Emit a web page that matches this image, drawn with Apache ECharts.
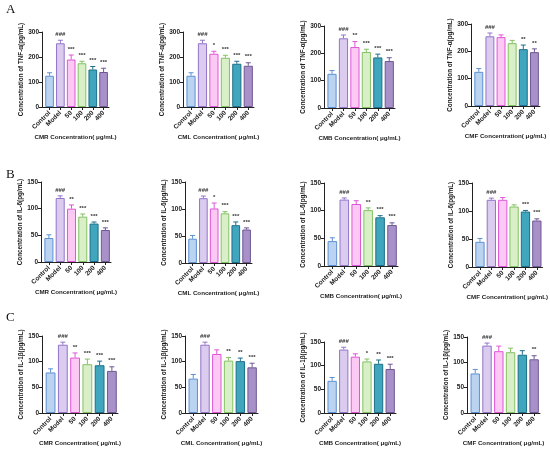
<!DOCTYPE html>
<html>
<head>
<meta charset="utf-8">
<script src="https://cdn.jsdelivr.net/npm/echarts@6/dist/echarts.min.js"></script>
<style>
  html, body { margin: 0; padding: 0; background: #fff; }
  #graph { width: 550px; height: 449px; }
</style>
</head>
<body>
<div id="graph"></div>
<script>
  // 分组名称（X轴）
  var cats = ['Control', 'Model', '50', '100', '200', '400'];
  var extracts = ['CMR', 'CML', 'CMB', 'CMF'];

  // A: TNF-α
  var tnfMean = [
    [125, 255, 190, 175, 150, 140],
    [125, 255, 213, 197, 173, 165],
    [125, 255, 223, 205, 185, 172],
    [125, 255, 252, 230, 208, 197]
  ];
  var tnfErr = [
    [12, 12, 18, 8, 12, 15],
    [12, 12, 10, 10, 10, 12],
    [12, 12, 20, 10, 12, 12],
    [12, 12, 8, 10, 15, 12]
  ];
  var tnfSig = [
    ['', '###', '***', '***', '***', '***'],
    ['', '###', '*', '***', '***', '***'],
    ['', '###', '**', '***', '***', '***'],
    ['', '###', '', '', '**', '**']
  ];

  // B: IL-6
  var il6Mean = [
    [45, 120, 100, 85, 72, 60],
    [45, 120, 101, 92, 70, 62],
    [45, 120, 112, 101, 88, 74],
    [45, 120, 120, 108, 99, 83]
  ];
  var il6Err = [
    [6, 4, 7, 5, 3, 4],
    [6, 4, 10, 3, 6, 3],
    [6, 3, 6, 4, 3, 4],
    [6, 3, 4, 3, 2, 3]
  ];
  var il6Sig = [
    ['', '###', '**', '***', '***', '***'],
    ['', '###', '*', '***', '***', '***'],
    ['', '###', '', '**', '***', '***'],
    ['', '###', '', '', '***', '***']
  ];

  // C: IL-1β
  var il1bMean = [
    [79, 133, 108, 95, 93, 82],
    [67, 133, 115, 102, 101, 89],
    [68, 134, 119, 109, 104, 93],
    [78, 133, 122, 120, 115, 106]
  ];
  var il1bErr = [
    [7, 5, 9, 10, 8, 8],
    [8, 5, 8, 6, 6, 8],
    [7, 5, 6, 5, 8, 10],
    [8, 5, 10, 8, 8, 7]
  ];
  var il1bSig = [
    ['', '###', '**', '***', '***', '***'],
    ['', '###', '', '**', '**', '***'],
    ['', '###', '', '*', '**', '***'],
    ['', '###', '', '', '', '**']
  ];

  var yTicksMax = [300, 150, 150];
  var yTicksStep = [100, 50, 50];
  var yNames = ['Concentration of TNF-α(pg/mL)', 'Concentration of IL-6(pg/mL)', 'Concentration of IL-1β(pg/mL)'];

  var means = [tnfMean, il6Mean, il1bMean];
  var errs = [tnfErr, il6Err, il1bErr];
  var sigs = [tnfSig, il6Sig, il1bSig];

  // 颜色
  var fillColors = ['#b9d3f1', '#dacbef', '#fbc9f3', '#d8efc8', '#3fa6be', '#a891c9'];
  var lineColors = ['#5d90d2', '#9274c9', '#df55d6', '#83c163', '#1c6f87', '#6d5893'];

  // 每个小图的坐标区域 [左, 上, 右, 下]
  var boxes = [
    [[42, 32, 109, 107], [183, 32, 254, 107], [324, 26, 395, 108], [471, 24, 540, 106]],
    [[41, 182, 111, 262], [185, 182, 252, 263], [324, 183, 398, 266], [472, 183, 544, 267]],
    [[42, 336, 118, 413], [185, 336, 258, 413], [324, 342, 396, 413], [467, 337, 540, 413]]
  ];

  var font = 'Liberation Sans, Arial, sans-serif';
  var grids = [], xAxes = [], yAxes = [], series = [];

  for (var r = 0; r < 3; r++) {
    for (var c = 0; c < 4; c++) {
      var k = grids.length;
      var b = boxes[r][c];
      var band = (b[2] - b[0]) / 6.2;
      grids.push({ left: b[0], top: b[1], width: b[2] - b[0], height: b[3] - b[1] });
      xAxes.push({
        gridIndex: k,
        type: 'value',
        min: 0.3,
        max: 6.5,
        splitLine: { show: false },
        axisLine: { show: true, lineStyle: { color: '#222', width: 1 } },
        axisTick: { show: true, length: 3, customValues: [1, 2, 3, 4, 5, 6], lineStyle: { color: '#222' } },
        axisLabel: {
          customValues: [1, 2, 3, 4, 5, 6],
          rotate: 45,
          margin: 5,
          hideOverlap: false,
          showMinLabel: true,
          showMaxLabel: true,
          fontSize: 6.5,
          fontWeight: 'bold',
          fontFamily: font,
          color: '#222',
          formatter: function (v) { return cats[Math.round(v) - 1] || ''; }
        },
        name: extracts[c] + ' Concentration( μg/mL)',
        nameLocation: 'middle',
        nameGap: 25,
        nameTextStyle: { fontSize: 6.2, fontWeight: 'bold', fontFamily: font, color: '#222' }
      });
      yAxes.push({
        gridIndex: k,
        type: 'value',
        min: 0,
        max: yTicksMax[r],
        interval: yTicksStep[r],
        splitLine: { show: false },
        axisLine: { show: true, lineStyle: { color: '#222', width: 1 } },
        axisTick: { show: true, length: 3, lineStyle: { color: '#222' } },
        axisLabel: { fontSize: 6.5, fontWeight: 'bold', fontFamily: font, color: '#222', margin: 3 },
        name: yNames[r],
        nameLocation: 'middle',
        nameGap: 18,
        nameTextStyle: { fontSize: 6.3, fontWeight: 'bold', fontFamily: font, color: '#222' }
      });

      var m = means[r][c], e = errs[r][c], s = sigs[r][c];
      series.push({
        type: 'bar',
        xAxisIndex: k,
        yAxisIndex: k,
        barWidth: band * 0.8,
        silent: true,
        animation: false,
        data: m.map(function (v, i) {
          return {
            value: [i + 1, v],
            itemStyle: { color: fillColors[i], borderColor: lineColors[i], borderWidth: 1 }
          };
        })
      });
      // 误差线和显著性标记
      series.push({
        type: 'custom',
        xAxisIndex: k,
        yAxisIndex: k,
        silent: true,
        animation: false,
        z: 5,
        data: m.map(function (v, i) { return [i + 1, v, v + e[i], i]; }),
        renderItem: (function (sig) {
          return function (params, api) {
            var i = api.value(3);
            var p0 = api.coord([api.value(0), api.value(1)]);
            var p1 = api.coord([api.value(0), api.value(2)]);
            var col = lineColors[i];
            return {
              type: 'group',
              children: [
                { type: 'line', shape: { x1: p0[0], y1: p0[1], x2: p1[0], y2: p1[1] }, style: { stroke: col, lineWidth: 1 } },
                { type: 'line', shape: { x1: p1[0] - 2.5, y1: p1[1], x2: p1[0] + 2.5, y2: p1[1] }, style: { stroke: col, lineWidth: 1 } },
                {
                  type: 'text',
                  style: {
                    x: p1[0], y: p1[1] - 3, text: sig[i],
                    align: 'center', verticalAlign: 'bottom',
                    fontSize: 6, fontWeight: 'bold', fontFamily: font, fill: '#333'
                  }
                }
              ]
            };
          };
        })(s)
      });
    }
  }

  var letterStyle = { fontSize: 13, fontWeight: 'normal', fontFamily: 'Liberation Serif, Times New Roman, serif', color: '#111' };
  var myChart = echarts.init(document.getElementById('graph'), null, { renderer: 'canvas' });
  myChart.setOption({
    backgroundColor: '#fff',
    animation: false,
    title: [
      { text: 'A', left: 1, top: -2, textStyle: letterStyle },
      { text: 'B', left: 1, top: 163, textStyle: letterStyle },
      { text: 'C', left: 1, top: 306, textStyle: letterStyle }
    ],
    grid: grids,
    xAxis: xAxes,
    yAxis: yAxes,
    series: series
  });
  window.addEventListener('resize', function () {
    myChart.resize();
  });
</script>
</body>
</html>
